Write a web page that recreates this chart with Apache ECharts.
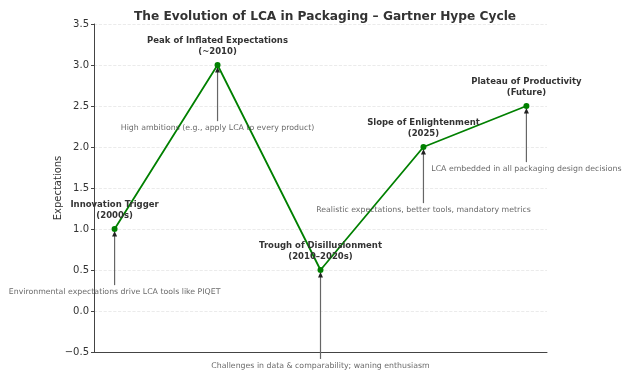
<!DOCTYPE html>
<html><head><meta charset="utf-8">
<script src="https://cdn.jsdelivr.net/npm/echarts@6/dist/echarts.min.js"></script>
<style>html,body{margin:0;padding:0;background:#fff}#c{width:630px;height:378px}</style>
</head><body><div id="c"></div>
<script>
var stages = ['Innovation Trigger\n(2000s)', 'Peak of Inflated Expectations\n(~2010)', 'Trough of Disillusionment\n(2010–2020s)', 'Slope of Enlightenment\n(2025)', 'Plateau of Productivity\n(Future)'];
var expectations = [1.0, 3.0, 0.5, 2.0, 2.5];
var notes = ['Environmental expectations drive LCA tools like PIQET', 'High ambitions (e.g., apply LCA to every product)', 'Challenges in data & comparability; waning enthusiasm', 'Realistic expectations, better tools, mandatory metrics', 'LCA embedded in all packaging design decisions'];
var noteY = [0.23, 2.23, -0.67, 1.23, 1.73];
var yTicks = [-0.5, 0.0, 0.5, 1.0, 1.5, 2.0, 2.5, 3.0, 3.5];

var FONT = 'DejaVu Sans';
var lineData = expectations.map(function (v, i) { return [i, v]; });
var noteData = noteY.map(function (v, i) { return [i, v]; });
var arrowData = expectations.map(function (v, i) { return [i, noteY[i], v]; });

var chart = echarts.init(document.getElementById('c'), null, { renderer: 'canvas' });
chart.setOption({
  animation: false,
  textStyle: { fontFamily: FONT },
  title: {
    text: 'The Evolution of LCA in Packaging – Gartner Hype Cycle',
    left: 320, top: 6, textAlign: 'center',
    textStyle: { fontFamily: FONT, fontWeight: 'bold', fontSize: 12.2, color: '#333' }
  },
  grid: { left: 94, right: 83, top: 24, bottom: 26 },
  xAxis: {
    type: 'value', min: -0.2, max: 4.2,
    axisLine: { show: true, onZero: false, lineStyle: { color: '#444', width: 1 } },
    axisTick: { show: false }, axisLabel: { show: false }, splitLine: { show: false }
  },
  yAxis: {
    type: 'value', min: -0.5, max: 3.5, interval: 0.5,
    name: 'Expectations', nameLocation: 'middle', nameGap: 31, nameMoveOverlap: false,
    nameTextStyle: { fontFamily: FONT, fontSize: 10, color: '#333' },
    axisLine: { show: true, onZero: false, lineStyle: { color: '#444', width: 1 } },
    axisTick: { show: true, length: 3, lineStyle: { color: '#444' } },
    axisLabel: { fontFamily: FONT, fontSize: 10, color: '#333', margin: 5,
      formatter: function (v) { return v.toFixed(1).replace('-', '−'); } },
    splitLine: { show: true, lineStyle: { color: '#e6e6e6', type: 'dashed', width: 0.8 } }
  },
  series: [
    {
      type: 'custom', clip: false, silent: true, z: 2,
      data: arrowData,
      renderItem: function (params, api) {
        var x = api.value(0);
        var s = api.coord([x, api.value(1)]);
        var e = api.coord([x, api.value(2)]);
        var x0 = s[0], y0 = s[1] - 7, y1 = e[1] + 2;
        return {
          type: 'group',
          children: [
            { type: 'line', shape: { x1: x0, y1: y0, x2: x0, y2: y1 + 4 },
              style: { stroke: '#666', lineWidth: 1.2 } },
            { type: 'polygon', shape: { points: [[x0, y1], [x0 - 2.5, y1 + 5.5], [x0 + 2.5, y1 + 5.5]] },
              style: { fill: '#222' } }
          ]
        };
      }
    },
    {
      type: 'line', data: lineData, clip: false,
      lineStyle: { color: '#008000', width: 1.8 },
      itemStyle: { color: '#008000' },
      symbol: 'circle', symbolSize: 6,
      label: {
        show: true, position: 'top', distance: 5,
        formatter: function (p) { return stages[p.dataIndex]; },
        fontFamily: FONT, fontWeight: 'bold', fontSize: 8.5, lineHeight: 10.5,
        color: '#333', align: 'center'
      },
      z: 3
    },
    {
      type: 'scatter', data: noteData, clip: false, symbolSize: 0,
      label: {
        show: true, position: 'inside',
        formatter: function (p) { return notes[p.dataIndex]; },
        fontFamily: FONT, fontSize: 7.8, color: '#444'
      },
      z: 4
    }
  ]
});
</script></body></html>
